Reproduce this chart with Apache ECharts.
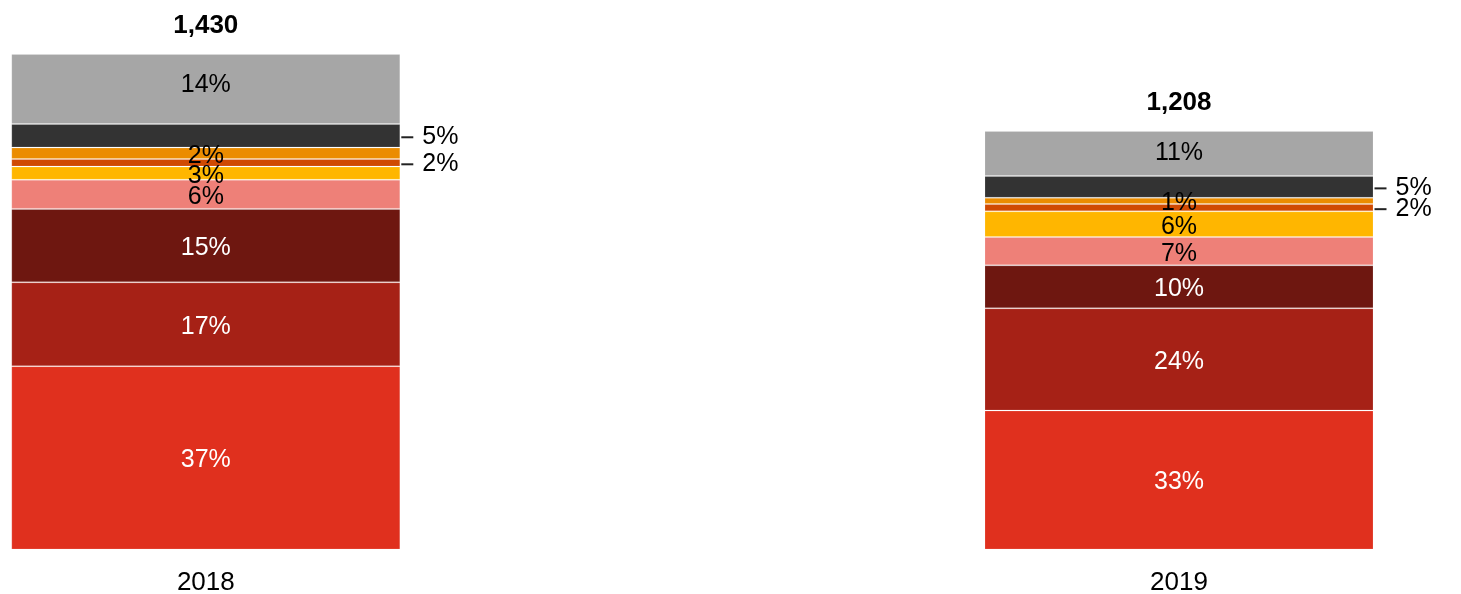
<!DOCTYPE html>
<html>
<head>
<meta charset="utf-8">
<script src="https://cdn.jsdelivr.net/npm/echarts@6/dist/echarts.min.js"></script>
<style>
  html, body { margin: 0; padding: 0; background: #ffffff; }
  #chart { width: 1461px; height: 594px; }
</style>
</head>
<body>
<div id="chart"></div>
<script>
// ---- data (bottom segment first) ----
var categories = ['2018', '2019'];
var totals = [1430, 1208];
var seriesNames = ['Segment A', 'Segment B', 'Segment C', 'Segment D', 'Segment E', 'Segment F', 'Segment G', 'Segment H', 'Segment I'];
var segA = [529, 401];   // red
var segB = [242, 295];   // dark red
var segC = [212, 124];   // burgundy
var segD = [84, 82];     // salmon
var segE = [38, 74];     // yellow
var segF = [22, 21];     // tangerine (label outside)
var segG = [33, 18];     // orange
var segH = [68, 63];     // charcoal (label outside)
var segI = [202, 130];   // grey

var seriesValues = [segA, segB, segC, segD, segE, segF, segG, segH, segI];
var colors = ['#e0301e', '#a62116', '#6e1710', '#ee8078', '#ffb600', '#d04a02', '#eb8c00', '#333333', '#a6a6a6'];
var labelColors = ['#ffffff', '#ffffff', '#ffffff', '#000000', '#000000', '#000000', '#000000', '#000000', '#000000'];
var outside = [false, false, false, false, false, true, false, true, false];
// drawing order so that overflowing labels sit on top of neighbouring bars
var zOrder = [2, 2, 2, 4, 5, 3, 6, 3, 2];

var FONT = '"Liberation Sans", Arial, sans-serif';

function pct(p) {
  return Math.round(p.value / totals[p.dataIndex] * 100) + '%';
}

var series = seriesValues.map(function (vals, i) {
  var label;
  if (outside[i]) {
    label = {
      show: true,
      position: 'right',
      distance: 1,
      offset: [0, 1.5],
      formatter: function (p) { return '{l|}{t|' + pct(p) + '}'; },
      rich: {
        l: { width: 12, height: 2, backgroundColor: '#222222', verticalAlign: 'middle' },
        t: { fontSize: 25, fontFamily: FONT, color: '#000000', padding: [0, 0, 0, 9], verticalAlign: 'middle' }
      }
    };
  } else {
    label = {
      show: true,
      position: 'inside',
      formatter: pct,
      offset: i === 8 ? [0, 0] : [0, 2.5],
      fontSize: 25,
      fontFamily: FONT,
      color: labelColors[i]
    };
  }
  var data = vals.map(function (v, j) {
    var item = { value: v };
    if (i === 8 && j === 0) { item.label = { offset: [0, -4] }; }
    return item;
  });
  return {
    name: seriesNames[i],
    type: 'bar',
    stack: 'total',
    barWidth: 389,
    data: data,
    itemStyle: { color: colors[i], borderColor: 'rgba(255,255,255,0.15)', borderWidth: 1 },
    label: label,
    z: zOrder[i]
  };
});

// total labels on top of each stack
series.push({
  name: 'Total',
  type: 'bar',
  stack: 'total',
  barWidth: 389,
  data: categories.map(function () { return 0; }),
  itemStyle: { color: 'rgba(0,0,0,0)' },
  z: 7,
  label: {
    show: true,
    position: 'top',
    distance: 15,
    fontSize: 26,
    fontWeight: 'bold',
    fontFamily: FONT,
    color: '#000000',
    formatter: function (p) { return totals[p.dataIndex].toLocaleString('en-US'); }
  }
});

var chart = echarts.init(document.getElementById('chart'), null, { renderer: 'canvas' });
chart.setOption({
  animation: false,
  backgroundColor: '#ffffff',
  grid: { left: 205.8, right: 282, top: 54, bottom: 44.5, containLabel: false, outerBoundsMode: 'none' },
  xAxis: {
    type: 'category',
    data: categories,
    boundaryGap: false,
    axisLine: { show: false },
    axisTick: { show: false },
    splitLine: { show: false },
    axisLabel: { fontSize: 26, fontFamily: FONT, color: '#000000', margin: 20, interval: 0 }
  },
  yAxis: {
    type: 'value',
    min: 0,
    max: Math.max.apply(null, totals),
    show: false,
    splitLine: { show: false }
  },
  series: series
});
</script>
</body>
</html>
